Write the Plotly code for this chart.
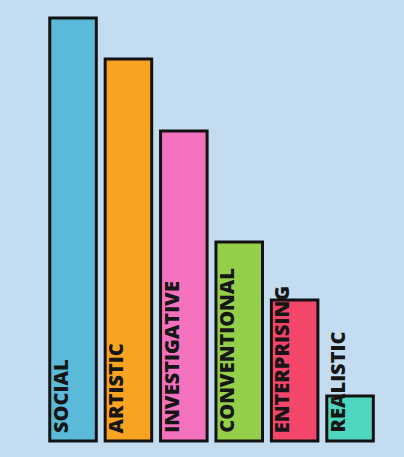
import plotly.graph_objects as go

categories = ["SOCIAL", "ARTISTIC", "INVESTIGATIVE", "CONVENTIONAL", "ENTERPRISING", "REALISTIC"]
values = [423, 382, 310, 199, 141, 45]
colors = ["#5bbad9", "#f8a321", "#f472bd", "#94cf4a", "#f4456a", "#4fd6be"]

fig = go.Figure()
fig.add_trace(go.Bar(
    x=categories, y=values, width=0.84,
    marker=dict(color=colors, line=dict(color="#121212", width=3)),
    hoverinfo="skip",
))

for c in categories:
    fig.add_annotation(
        x=c, y=0, xref="x", yref="y", text=c, showarrow=False,
        textangle=-90, xanchor="center", yanchor="bottom",
        xshift=-13, yshift=6,
        font=dict(family="Open Sans", size=20, color="#161616", weight=800),
    )

fig.update_layout(
    width=404, height=457,
    margin=dict(l=0, r=0, t=0, b=0),
    paper_bgcolor="#c4dcf0", plot_bgcolor="#c4dcf0",
    showlegend=False,
    xaxis=dict(type="category", range=[-1.318, 5.974], visible=False, fixedrange=True),
    yaxis=dict(range=[-16, 441], visible=False, fixedrange=True),
)
fig.write_html(
    "out.html",
    config={"displayModeBar": False},
    post_script="document.body.style.margin='0';document.body.style.background='#c4dcf0';",
)
